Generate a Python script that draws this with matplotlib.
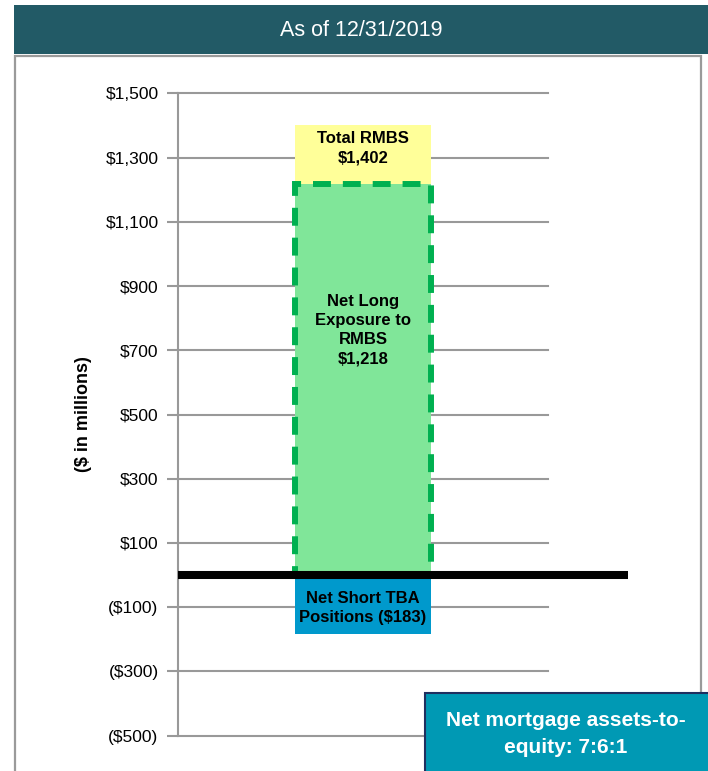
import matplotlib.pyplot as plt
from matplotlib.patches import Rectangle

plt.rcParams['font.family'] = ['Liberation Sans Narrow', 'Liberation Sans', 'DejaVu Sans']

ticks = [1500, 1300, 1100, 900, 700, 500, 300, 100, -100, -300, -500]
tick_labels = ["$1,500", "$1,300", "$1,100", "$900", "$700", "$500", "$300", "$100",
               "($100)", "($300)", "($500)"]
total_rmbs = 1402
net_long = 1218
net_short_tba = -183

W, H = 708, 771
fig = plt.figure(figsize=(W / 100, H / 100), dpi=100)

def fx(px):
    return px / W

def fy(py):
    return 1 - py / H

# title banner and panel frame
fig.patches.append(Rectangle((fx(14), fy(54)), fx(708) - fx(14), fy(5) - fy(54),
                             transform=fig.transFigure, facecolor="#225a66", edgecolor="none"))
fig.text(fx(361), fy(30), "As of 12/31/2019", color="white", fontsize=15.5,
         ha="center", va="center")
fig.patches.append(Rectangle((fx(15), fy(780)), fx(701) - fx(15), fy(56) - fy(780),
                             transform=fig.transFigure, facecolor="none",
                             edgecolor="#9a9a9a", linewidth=1.6))

ax = fig.add_axes([fx(178), fy(735.7), fx(548) - fx(178), fy(93.3) - fy(735.7)])
ax.set_xlim(0, 1)
ax.set_ylim(-500, 1500)

ax.bar(0.5, total_rmbs, width=0.365, color="#ffff99", zorder=2)
ax.bar(0.5, net_long, width=0.365, color="#80e699", edgecolor="#00b050",
       linewidth=4.3, linestyle=(0, (3, 2)), zorder=3)
ax.bar(0.5, net_short_tba, width=0.365, color="#0099cc", zorder=2)
ax.plot([0, 1.215], [0, 0], color="black", linewidth=5.8, clip_on=False, zorder=4,
        solid_capstyle="butt")

lab = dict(ha="center", va="center", fontsize=12, fontweight="bold", linespacing=1.35, zorder=5)
ax.text(0.5, 1330, "Total RMBS\n$1,402", **lab)
ax.text(0.5, 763, "Net Long\nExposure to\nRMBS\n$1,218", **lab)
ax.text(0.5, -103, "Net Short TBA\nPositions ($183)", **lab)

ax.set_yticks(ticks)
ax.set_yticklabels(tick_labels, fontsize=12.5)
ax.set_xticks([])
ax.tick_params(axis="y", direction="out", length=8, width=1.5, color="#999999", pad=6)
ax.yaxis.grid(True, color="#999999", linewidth=1.5)
for g in ax.get_ygridlines():
    g.set_clip_on(False)
ax.set_axisbelow(True)
for s in ["top", "right", "bottom"]:
    ax.spines[s].set_visible(False)
ax.spines["left"].set_color("#999999")
ax.spines["left"].set_linewidth(1.5)
ax.set_ylabel("($ in millions)", fontsize=13, fontweight="bold", labelpad=10)

# ratio box
fig.patches.append(Rectangle((fx(425), fy(780)), fx(715) - fx(425), fy(693) - fy(780),
                             transform=fig.transFigure, facecolor="#0099b4",
                             edgecolor="#1f2f5f", linewidth=1.5))
fig.text(fx(566), fy(734), "Net mortgage assets-to-\nequity: 7:6:1", color="white",
         fontsize=15, fontweight="bold", ha="center", va="center", linespacing=1.5)

fig.savefig("out.png", dpi=100)
